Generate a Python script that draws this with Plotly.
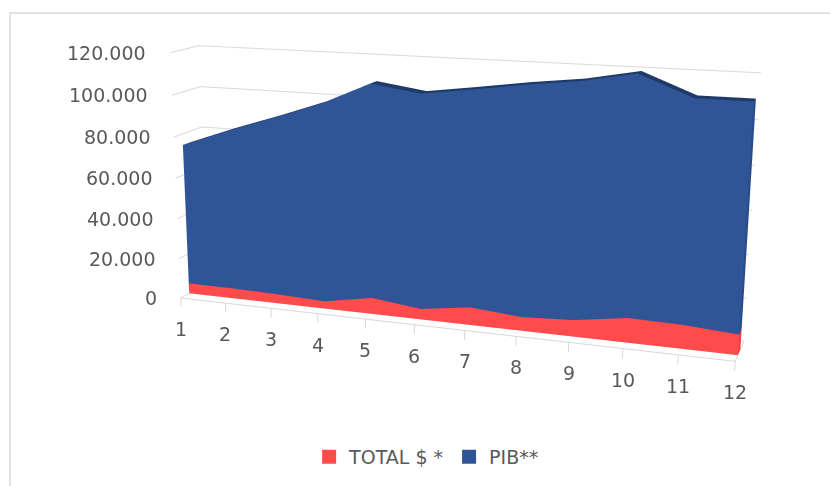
import numpy as np
import plotly.graph_objects as go

# Monthly categories and the two stacked series
categories = list(range(1, 13))
total_usd = [5100, 5000, 4500, 3600, 7900, 5100, 8500, 6500, 7800, 11500, 11000, 9400]
pib = [69500, 78000, 86200, 95300, 101500, 101000, 100800, 106200, 107700, 108500, 99800, 101400]
series_names = ["TOTAL $ *", "PIB**"]
value_ticks = [0, 20000, 40000, 60000, 80000, 100000, 120000]
value_tick_labels = ["0", "20.000", "40.000", "60.000", "80.000", "100.000", "120.000"]

RED = "#FF4B4B"
BLUE = "#2F5597"
GRID = "#D9D9D9"
TEXT = "#595959"
FONT = "DejaVu Sans"

Y_FRONT, Y_BACK = 0.30, 0.58   # depth band occupied by the stacked area


def area_mesh(xs, base, top, front_col, top_col, side_col, name, with_top):
    """Build a solid 3D area (front face, top face, right end face)."""
    xs = list(xs)
    vx, vy, vz = [], [], []
    I, J, K, colors = [], [], [], []

    def add_quad(p0, p1, p2, p3, col):
        n = len(vx)
        for p in (p0, p1, p2, p3):
            vx.append(p[0]); vy.append(p[1]); vz.append(p[2])
        I.extend([n, n]); J.extend([n + 1, n + 2]); K.extend([n + 2, n + 3])
        colors.extend([col, col])

    for a in range(len(xs) - 1):
        b = a + 1
        add_quad((xs[a], Y_FRONT, base[a]), (xs[b], Y_FRONT, base[b]),
                 (xs[b], Y_FRONT, top[b]), (xs[a], Y_FRONT, top[a]), front_col)
        if with_top:
            add_quad((xs[a], Y_FRONT, top[a]), (xs[b], Y_FRONT, top[b]),
                     (xs[b], Y_BACK, top[b]), (xs[a], Y_BACK, top[a]), top_col)
    e = len(xs) - 1
    add_quad((xs[e], Y_FRONT, base[e]), (xs[e], Y_BACK, base[e]),
             (xs[e], Y_BACK, top[e]), (xs[e], Y_FRONT, top[e]), side_col)
    return go.Mesh3d(
        x=vx, y=vy, z=vz, i=I, j=J, k=K, facecolor=colors, name=name,
        flatshading=True, showlegend=False, hoverinfo="skip",
        lighting=dict(ambient=1, diffuse=0, specular=0, fresnel=0, roughness=1),
    )


red_top = np.array(total_usd, dtype=float)
blue_top = red_top + np.array(pib, dtype=float)
zeros = np.zeros(len(categories))

x_first, x_last = categories[0], categories[-1]

# gridlines: left side wall + back wall, plus floor edge and tick marks
gx, gy, gz = [], [], []
for v in value_ticks:
    gx += [x_first, x_first, x_last, None]
    gy += [0, 1, 1, None]
    gz += [v, v, v, None]
gx += [x_first, x_last, x_last, None]
gy += [0, 0, 1, None]
gz += [0, 0, 0, None]
for c in categories:
    gx += [c, c, None]
    gy += [0, 0, None]
    gz += [0, -4500, None]
grid = go.Scatter3d(x=gx, y=gy, z=gz, mode="lines",
                    line=dict(color=GRID, width=2), showlegend=False, hoverinfo="skip")

fig = go.Figure()
fig.add_trace(grid)
fig.add_trace(area_mesh(categories, zeros, red_top, RED, "#D93C3C", "#E84545",
                        series_names[0], False))
fig.add_trace(area_mesh(categories, red_top, blue_top, BLUE, "#1F3A68", "#2A4C8A",
                        series_names[1], True))

# legend entries
for nm, col in zip(series_names, [RED, BLUE]):
    fig.add_trace(go.Scatter(x=[None], y=[None], mode="markers", name=nm,
                             marker=dict(symbol="square", size=14, color=col)))

annotations = []
for v, t in zip(value_ticks, value_tick_labels):
    annotations.append(dict(x=x_first, y=0, z=v, text=t, showarrow=False,
                            xanchor="right", yanchor="middle", xshift=-22,
                            font=dict(family=FONT, size=19, color=TEXT)))
for c in categories:
    annotations.append(dict(x=c, y=0, z=0, text=str(c), showarrow=False,
                            xanchor="center", yanchor="middle", yshift=-31,
                            font=dict(family=FONT, size=19, color=TEXT)))

# camera: rotated 20 deg, tilted 15 deg, with a long lens (narrow field of view)
phi = np.radians(20)
eps = np.radians(15)
dist = 5.82
FOVY = 0.336
right_vec = np.array([np.cos(phi), np.sin(phi), 0.0])
up_vec = np.array([-np.sin(phi) * np.sin(eps), np.cos(phi) * np.sin(eps), np.cos(eps)])
center = -0.142 * right_vec - 0.175 * up_vec
direction = np.array([np.sin(phi) * np.cos(eps), -np.cos(phi) * np.cos(eps), np.sin(eps)])
eye = center + dist * direction

hidden = dict(visible=False, showgrid=False, zeroline=False, showbackground=False,
              showspikes=False)
fig.update_layout(
    width=830, height=486,
    margin=dict(l=0, r=0, t=0, b=0),
    paper_bgcolor="white", plot_bgcolor="white",
    xaxis=dict(visible=False), yaxis=dict(visible=False),
    scene=dict(
        domain=dict(x=[0, 1], y=[0, 1]),
        xaxis=dict(range=[0.95, 12.05], **hidden),
        yaxis=dict(range=[-0.02, 1.02], **hidden),
        zaxis=dict(range=[-8000, 122000], **hidden),
        aspectmode="manual",
        aspectratio=dict(x=2.4, y=0.26, z=1.155),
        camera=dict(eye=dict(x=eye[0], y=eye[1], z=eye[2]),
                    center=dict(x=center[0], y=center[1], z=center[2]),
                    up=dict(x=0, y=0, z=1),
                    projection=dict(type="perspective")),
        annotations=annotations,
        dragmode=False,
    ),
    legend=dict(orientation="h", x=0.514, xanchor="center", y=0.06, yanchor="middle",
                font=dict(family=FONT, size=19, color=TEXT), itemwidth=30),
    shapes=[dict(type="rect", xref="paper", yref="paper", x0=10 / 830, x1=1.02,
                 y0=-0.02, y1=1 - 13 / 486, line=dict(color=GRID, width=1.5))],
)

# narrow the 3D scene's field of view once the plot exists
lens_js = """
try {
  var gd = document.getElementById('{plot_id}');
  var sc = gd._fullLayout.scene._scene;
  sc.glplot.fovy = %f;
  sc.glplot.redraw();
} catch (e) { console.log(e); }
""" % FOVY

fig.write_html("out.html", post_script=lens_js)
